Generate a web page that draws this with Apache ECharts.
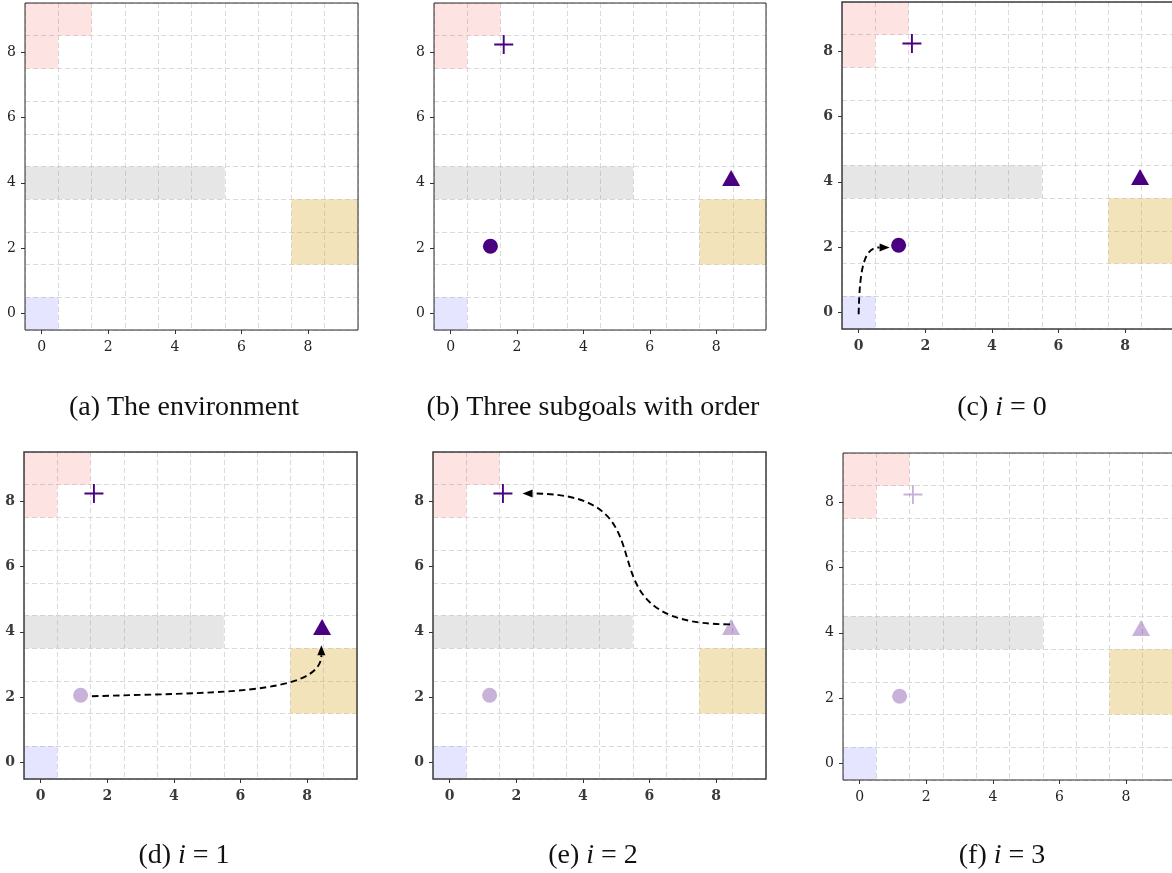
<!DOCTYPE html>
<html lang="en">
<head>
<meta charset="UTF-8">
<title>subgoals</title>
<script src="https://cdn.jsdelivr.net/npm/echarts@6/dist/echarts.min.js"></script>
<style>
    html, body { margin: 0; padding: 0; background: #fff; }
    #main { width: 1172px; height: 873px; }
</style>
</head>
<body>
<div id="main"></div>
<script type="text/javascript">
    // environment cells (x, y)
    const pinkCells = [[0, 9], [1, 9], [0, 8]];
    const grayCells = [[0, 4], [1, 4], [2, 4], [3, 4], [4, 4], [5, 4]];
    const goldCells = [[8, 2], [9, 2], [8, 3], [9, 3]];
    const blueCells = [[0, 0]];

    // subgoals
    const circlePos = [1.2, 2.06];
    const trianglePos = [8.45, 4.15];
    const crossPos = [1.6, 8.23];

    const tickValues = [0, 2, 4, 6, 8];

    // arrows: start, control 1, control 2, end
    const arrowC = [0, -0.05, 0.03, 1.5, 0.2, 2.0, 0.93, 1.99];
    const arrowD = [1.54, 2.03, 5.0, 2.15, 8.43, 2.05, 8.43, 3.59];
    const arrowE = [8.42, 4.23, 3.5, 4.23, 7.1, 8.23, 2.19, 8.23];

    // subgoal alpha per panel: circle, triangle, cross
    const alphaB = [1, 1, 1];
    const alphaC = [1, 1, 1];
    const alphaD = [0.3, 1, 1];
    const alphaE = [0.3, 0.3, 1];
    const alphaF = [0.3, 0.3, 0.3];

    const panels = [
        {left: 25, top: 3, width: 333, height: 327, alpha: null, arrow: null, bold: false,
            cx: 184, cy: 408, cap: '{r|(a) The environment}'},
        {left: 434, top: 3, width: 332, height: 327, alpha: alphaB, arrow: null, bold: false,
            cx: 593, cy: 408, cap: '{r|(b) Three subgoals with order}'},
        {left: 842, top: 2, width: 333, height: 327, alpha: alphaC, arrow: arrowC, bold: true,
            cx: 1002, cy: 408, cap: '{r|(c) }{i|i}{r| = 0}'},
        {left: 24, top: 452, width: 333, height: 327, alpha: alphaD, arrow: arrowD, bold: true,
            cx: 184, cy: 856, cap: '{r|(d) }{i|i}{r| = 1}'},
        {left: 433, top: 452, width: 333, height: 327, alpha: alphaE, arrow: arrowE, bold: true,
            cx: 593, cy: 856, cap: '{r|(e) }{i|i}{r| = 2}'},
        {left: 843, top: 453, width: 333, height: 327, alpha: alphaF, arrow: null, bold: false,
            cx: 1002, cy: 856, cap: '{r|(f) }{i|i}{r| = 3}'}
    ];

    function cellSeries(k, cells, color) {
        return {
            type: 'custom',
            xAxisIndex: 2 * k,
            yAxisIndex: 2 * k,
            silent: true,
            z: 1,
            data: cells,
            renderItem: function (params, api) {
                let p0 = api.coord([api.value(0) - 0.5, api.value(1) + 0.5]);
                let p1 = api.coord([api.value(0) + 0.5, api.value(1) - 0.5]);
                return {
                    type: 'rect',
                    shape: {x: p0[0], y: p0[1], width: p1[0] - p0[0], height: p1[1] - p0[1]},
                    style: {fill: color}
                };
            }
        };
    }

    function arrowSeries(k, arrow) {
        return {
            type: 'custom',
            xAxisIndex: 2 * k,
            yAxisIndex: 2 * k,
            silent: true,
            z: 5,
            data: [arrow],
            renderItem: function (params, api) {
                let p = [];
                for (let i = 0; i < 4; i++) {
                    p.push(api.coord([api.value(2 * i), api.value(2 * i + 1)]));
                }
                let end = p[3];
                let dx = end[0] - p[2][0], dy = end[1] - p[2][1];
                let len = Math.sqrt(dx * dx + dy * dy) || 1;
                dx /= len;
                dy /= len;
                let headLen = 10, headHalf = 4;
                let bx = end[0] - dx * headLen, by = end[1] - dy * headLen;
                return {
                    type: 'group',
                    children: [{
                        type: 'bezierCurve',
                        shape: {
                            x1: p[0][0], y1: p[0][1],
                            cpx1: p[1][0], cpy1: p[1][1],
                            cpx2: p[2][0], cpy2: p[2][1],
                            x2: bx, y2: by
                        },
                        style: {stroke: '#000', fill: 'none', lineWidth: 1.9, lineDash: [6.5, 4]}
                    }, {
                        type: 'polygon',
                        shape: {
                            points: [
                                [end[0], end[1]],
                                [bx - dy * headHalf, by + dx * headHalf],
                                [bx + dy * headHalf, by - dx * headHalf]
                            ]
                        },
                        style: {fill: '#000'}
                    }]
                };
            }
        };
    }

    function markSeries(k, pos, symbol, size, alpha) {
        return {
            type: 'scatter',
            xAxisIndex: 2 * k,
            yAxisIndex: 2 * k,
            silent: true,
            z: 4,
            data: [pos],
            symbol: symbol,
            symbolSize: size,
            itemStyle: {color: 'rgba(75, 0, 130, ' + alpha + ')', opacity: 1}
        };
    }

    let option = {
        animation: false,
        backgroundColor: '#fff',
        grid: [],
        xAxis: [],
        yAxis: [],
        series: [],
        graphic: []
    };

    panels.forEach(function (pn, k) {
        let labelColor = pn.bold ? '#3a3a3a' : '#222';
        option.grid.push({
            left: pn.left, top: pn.top, width: pn.width, height: pn.height,
            show: true, backgroundColor: 'transparent',
            borderColor: pn.bold ? '#3c3c3c' : '#2a2a2a', borderWidth: pn.bold ? 1.5 : 1,
            containLabel: false, outerBoundsMode: 'none', z: 10
        });
        // grid lines on the half cells
        option.xAxis.push({
            gridIndex: k, type: 'value', min: -0.5, max: 9.5, interval: 1, position: 'top',
            axisLine: {show: false, onZero: false}, axisTick: {show: false}, axisLabel: {show: false},
            splitLine: {show: true, lineStyle: {color: '#dadada', width: 1, type: [5, 3]}}
        });
        option.xAxis.push({
            gridIndex: k, type: 'value', min: -0.5, max: 9.5, position: 'bottom',
            axisLine: {show: false, onZero: false},
            axisTick: {show: true, length: 4, customValues: tickValues, lineStyle: {color: '#333'}},
            axisLabel: {
                show: true, customValues: tickValues, margin: 10,
                fontFamily: 'DejaVu Serif', fontSize: 14, color: labelColor,
                fontWeight: pn.bold ? 'bold' : 'normal'
            },
            splitLine: {show: false}
        });
        option.yAxis.push({
            gridIndex: k, type: 'value', min: -0.5, max: 9.5, interval: 1, position: 'right',
            axisLine: {show: false, onZero: false}, axisTick: {show: false}, axisLabel: {show: false},
            splitLine: {show: true, lineStyle: {color: '#dadada', width: 1, type: [5, 3]}}
        });
        option.yAxis.push({
            gridIndex: k, type: 'value', min: -0.5, max: 9.5, position: 'left',
            axisLine: {show: false, onZero: false},
            axisTick: {show: true, length: 4, customValues: tickValues, lineStyle: {color: '#333'}},
            axisLabel: {
                show: true, customValues: tickValues, margin: 9,
                fontFamily: 'DejaVu Serif', fontSize: 14, color: labelColor,
                fontWeight: pn.bold ? 'bold' : 'normal'
            },
            splitLine: {show: false}
        });

        option.series.push(cellSeries(k, pinkCells, 'rgba(245, 0, 0, 0.11)'));
        option.series.push(cellSeries(k, grayCells, 'rgba(128, 128, 128, 0.2)'));
        option.series.push(cellSeries(k, goldCells, 'rgba(214, 168, 40, 0.32)'));
        option.series.push(cellSeries(k, blueCells, 'rgba(0, 0, 255, 0.1)'));

        if (pn.alpha) {
            option.series.push(markSeries(k, circlePos, 'circle', 15, pn.alpha[0]));
            option.series.push(markSeries(k, trianglePos, 'triangle', [18, 16], pn.alpha[1]));
            option.series.push(markSeries(k, crossPos,
                'path://M0,9 L20,9 L20,11 L0,11 Z M9,0 L11,0 L11,20 L9,20 Z', 19, pn.alpha[2]));
        }
        if (pn.arrow) {
            option.series.push(arrowSeries(k, pn.arrow));
        }

        option.graphic.push({
            type: 'text',
            x: pn.cx,
            y: pn.cy,
            silent: true,
            style: {
                text: pn.cap,
                align: 'center',
                verticalAlign: 'middle',
                rich: {
                    r: {fontFamily: 'Liberation Serif', fontSize: 28, fill: '#111'},
                    i: {fontFamily: 'Liberation Serif', fontSize: 28, fontStyle: 'italic', fill: '#111'}
                }
            }
        });
    });

    let chart = echarts.init(document.getElementById('main'));
    chart.setOption(option);
</script>
</body>
</html>
